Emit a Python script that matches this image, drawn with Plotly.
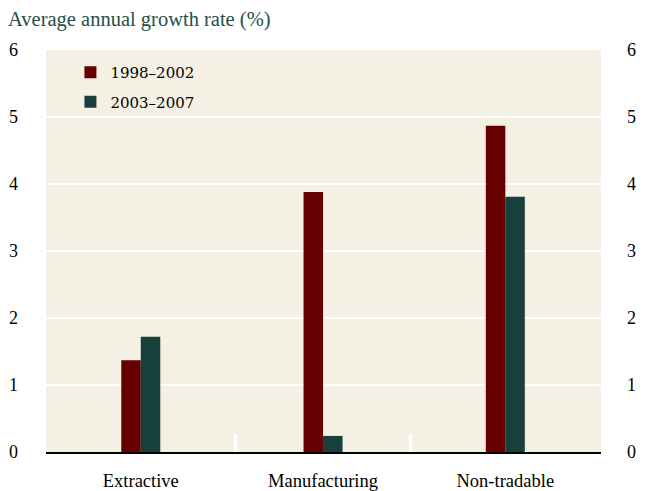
import plotly.graph_objects as go

categories = ["Extractive", "Manufacturing", "Non-tradable"]
series_names = ["1998–2002", "2003–2007"]
values_1998_2002 = [1.37, 3.88, 4.87]
values_2003_2007 = [1.72, 0.24, 3.81]
y_ticks = [0, 1, 2, 3, 4, 5, 6]

colors = ["#660000", "#173f3b"]
bg = "#f4f1e4"
serif = "Liberation Serif"

fig = go.Figure()
for name, vals, col, grp in zip(series_names, [values_1998_2002, values_2003_2007], colors, ["a", "b"]):
    fig.add_trace(go.Bar(x=categories, y=vals, name=name, marker_color=col,
                         marker_line_width=0, legendgroup=grp))
# invisible trace to activate the right-hand axis
fig.add_trace(go.Scatter(x=[categories[0]], y=[0], yaxis="y2", mode="markers",
                         marker=dict(opacity=0), showlegend=False, hoverinfo="skip"))

# white category separators at bottom
for xb in [0.52, 1.48]:
    fig.add_shape(type="line", x0=xb, x1=xb, y0=0, y1=0.27, xref="x", yref="y",
                  line=dict(color="white", width=3), layer="above")

fig.update_layout(
    width=637, height=483,
    margin=dict(l=38, r=44, t=42, b=39, autoexpand=False),
    paper_bgcolor="white", plot_bgcolor=bg,
    barmode="group", bargap=0.786, bargroupgap=0,
    font=dict(family=serif, size=18, color="black"),
    title=dict(text="Average annual growth rate (%)", x=0, xanchor="left",
               y=0.993, yanchor="top", pad=dict(l=0, t=0),
               font=dict(family=serif, size=20.5, color="#24504a")),
    showlegend=True,
    legend=dict(x=0.044, y=0.985, xanchor="left", yanchor="top",
                bgcolor="rgba(0,0,0,0)", tracegroupgap=7,
                font=dict(family="DejaVu Serif", size=15, color="black")),
    xaxis=dict(type="category", range=[-0.52, 2.525], showgrid=False,
               showline=True, linecolor="black", linewidth=1.5, automargin=False,
               ticks="", ticklabelstandoff=11, zeroline=False,
               tickfont=dict(size=18.5)),
    yaxis=dict(range=[0, 6], tickvals=y_ticks, showgrid=True, gridcolor="white",
               gridwidth=2, zeroline=False, ticks="", ticklabelstandoff=27,
               showline=False, automargin=False),
    yaxis2=dict(range=[0, 6], tickvals=y_ticks, overlaying="y", side="right",
                showgrid=False, zeroline=False, ticks="", ticklabelstandoff=25,
                showline=False, automargin=False),
)

fig.write_html("out.html")
